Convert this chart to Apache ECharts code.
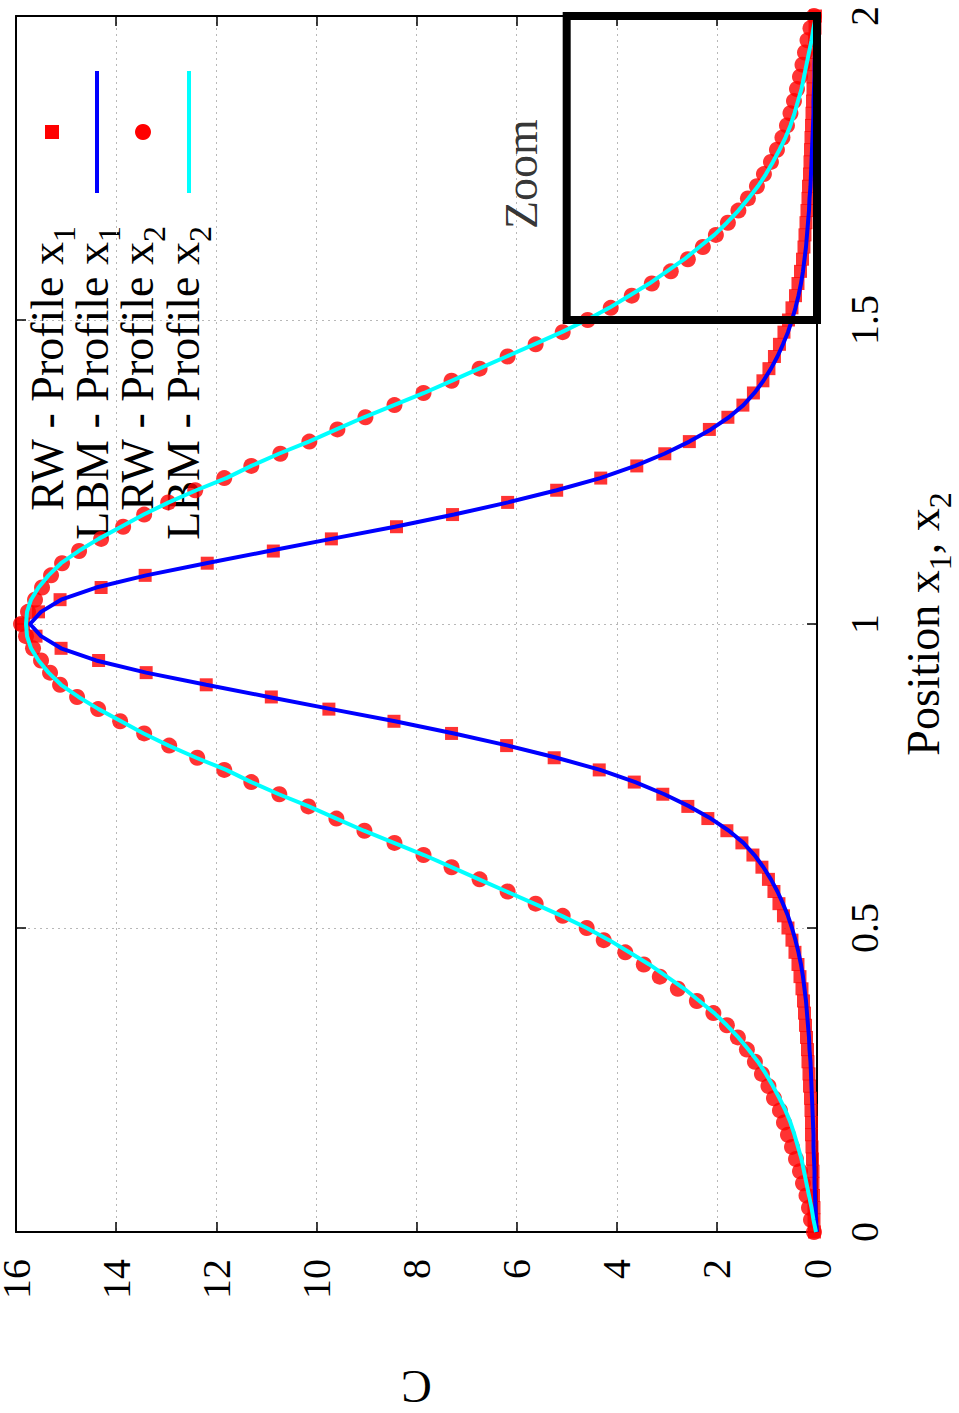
<!DOCTYPE html>
<html>
<head>
<meta charset="utf-8">
<script src="https://cdn.jsdelivr.net/npm/echarts@6/dist/echarts.min.js"></script>
<style>
html, body { margin: 0; padding: 0; background: #fff; }
#chart { width: 959px; height: 1413px; }
</style>
</head>
<body>
<div id="chart"></div>
<script>
// positions x1, x2 (shared by every profile)
var position = [0, 0.02, 0.04, 0.06, 0.08, 0.1, 0.12, 0.14, 0.16, 0.18,
    0.2, 0.22, 0.24, 0.26, 0.28, 0.3, 0.32, 0.34, 0.36, 0.38,
    0.4, 0.42, 0.44, 0.46, 0.48, 0.5, 0.52, 0.54, 0.56, 0.58,
    0.6, 0.62, 0.64, 0.66, 0.68, 0.7, 0.72, 0.74, 0.76, 0.78,
    0.8, 0.82, 0.84, 0.86, 0.88, 0.9, 0.92, 0.94, 0.96, 0.98,
    1,
    1.02, 1.04, 1.06, 1.08, 1.1, 1.12, 1.14, 1.16, 1.18, 1.2,
    1.22, 1.24, 1.26, 1.28, 1.3, 1.32, 1.34, 1.36, 1.38, 1.4,
    1.42, 1.44, 1.46, 1.48, 1.5, 1.52, 1.54, 1.56, 1.58, 1.6,
    1.62, 1.64, 1.66, 1.68, 1.7, 1.72, 1.74, 1.76, 1.78, 1.8,
    1.82, 1.84, 1.86, 1.88, 1.9, 1.92, 1.94, 1.96, 1.98, 2];

// RW - Profile x1 (squares)
var rwX1 = [0.05, 0.06, 0.06, 0.07, 0.08, 0.08, 0.09, 0.1, 0.11, 0.11,
    0.12, 0.13, 0.15, 0.16, 0.18, 0.19, 0.21, 0.23, 0.25, 0.27,
    0.3, 0.34, 0.38, 0.44, 0.5, 0.58, 0.67, 0.76, 0.86, 0.97,
    1.1, 1.28, 1.5, 1.8, 2.18, 2.58, 3.08, 3.65, 4.35, 5.25,
    6.2, 7.3, 8.45, 9.75, 10.9, 12.2, 13.4, 14.35, 15.1, 15.6,
    15.85,
    15.55, 15.12, 14.3, 13.42, 12.18, 10.86, 9.7, 8.4, 7.28, 6.18,
    5.2, 4.32, 3.6, 3.04, 2.55, 2.15, 1.78, 1.48, 1.27, 1.08,
    0.96, 0.85, 0.75, 0.66, 0.57, 0.5, 0.43, 0.38, 0.33, 0.29,
    0.26, 0.24, 0.22, 0.2, 0.18, 0.17, 0.15, 0.14, 0.13, 0.12,
    0.11, 0.1, 0.09, 0.08, 0.08, 0.07, 0.06, 0.05, 0.04, 0.03];

// LBM - Profile x1 (blue line)
var lbmX1 = [0, 0.02, 0.03, 0.04, 0.05, 0.05, 0.06, 0.07, 0.07, 0.08,
    0.09, 0.1, 0.11, 0.12, 0.13, 0.15, 0.16, 0.18, 0.2, 0.22,
    0.25, 0.28, 0.32, 0.37, 0.43, 0.5, 0.58, 0.68, 0.79, 0.92,
    1.07, 1.25, 1.47, 1.76, 2.12, 2.55, 3.05, 3.63, 4.33, 5.2,
    6.17, 7.25, 8.43, 9.7, 10.95, 12.2, 13.4, 14.4, 15.1, 15.5,
    15.72,
    15.5, 15.1, 14.4, 13.4, 12.2, 10.95, 9.7, 8.43, 7.25, 6.17,
    5.2, 4.33, 3.63, 3.05, 2.55, 2.12, 1.76, 1.47, 1.25, 1.07,
    0.92, 0.79, 0.68, 0.58, 0.5, 0.43, 0.37, 0.32, 0.28, 0.25,
    0.22, 0.2, 0.18, 0.16, 0.15, 0.13, 0.12, 0.11, 0.1, 0.09,
    0.08, 0.07, 0.07, 0.06, 0.05, 0.05, 0.04, 0.03, 0.02, 0];

// RW - Profile x2 (circles)
var rwX2 = [0.06, 0.12, 0.16, 0.21, 0.28, 0.34, 0.42, 0.5, 0.58, 0.66,
    0.74, 0.86, 0.97, 1.1, 1.24, 1.4, 1.58, 1.8, 2.07, 2.4,
    2.78, 3.14, 3.46, 3.83, 4.26, 4.6, 5.08, 5.62, 6.18, 6.74,
    7.3, 7.86, 8.44, 9.04, 9.6, 10.16, 10.74, 11.3, 11.84, 12.38,
    12.94, 13.44, 13.92, 14.36, 14.78, 15.12, 15.32, 15.5, 15.66, 15.8,
    15.9,
    15.76, 15.62, 15.48, 15.3, 15.08, 14.74, 14.3, 13.86, 13.44, 12.96,
    12.42, 11.84, 11.3, 10.72, 10.14, 9.58, 9.02, 8.44, 7.86, 7.3,
    6.74, 6.18, 5.62, 5.08, 4.58, 4.12, 3.7, 3.3, 2.92, 2.58,
    2.28, 2.02, 1.78, 1.57, 1.38, 1.2, 1.06, 0.92, 0.8, 0.69,
    0.6, 0.53, 0.46, 0.4, 0.34, 0.29, 0.24, 0.19, 0.13, 0.06];

// LBM - Profile x2 (cyan line)
var lbmX2 = [0.02, 0.07, 0.11, 0.16, 0.21, 0.26, 0.31, 0.38, 0.45, 0.53,
    0.63, 0.75, 0.88, 1.02, 1.18, 1.37, 1.57, 1.8, 2.05, 2.35,
    2.65, 3.0, 3.35, 3.75, 4.15, 4.6, 5.1, 5.65, 6.2, 6.75,
    7.3, 7.85, 8.45, 9.05, 9.6, 10.15, 10.75, 11.3, 11.8, 12.4,
    12.95, 13.45, 13.9, 14.35, 14.75, 15.1, 15.35, 15.55, 15.7, 15.78,
    15.8,
    15.78, 15.7, 15.55, 15.35, 15.1, 14.75, 14.35, 13.9, 13.45, 12.95,
    12.4, 11.8, 11.3, 10.75, 10.15, 9.6, 9.05, 8.45, 7.85, 7.3,
    6.75, 6.2, 5.65, 5.1, 4.6, 4.15, 3.75, 3.35, 3.0, 2.65,
    2.35, 2.05, 1.8, 1.57, 1.37, 1.18, 1.02, 0.88, 0.75, 0.63,
    0.53, 0.45, 0.38, 0.31, 0.26, 0.21, 0.16, 0.11, 0.07, 0.02];

// zoom window corners (C, position) and its label
var zoomBoxC = [5, 5, 0, 0, 5];
var zoomBoxPos = [1.5, 2, 2, 1.5, 1.5];
var zoomLabelC = [5.9];
var zoomLabelPos = [1.74];

var legendNames = ['RW - Profile x', 'LBM - Profile x', 'RW - Profile x', 'LBM - Profile x'];
var legendSubs = ['1', '1', '2', '2'];

var FONT = 'Liberation Serif';

function pairs(cs, ps) {
    var out = [];
    for (var i = 0; i < ps.length; i++) {
        out.push([cs[i], ps[i]]);
    }
    return out;
}

// main text + subscript
var richText = {
    n: { fontFamily: FONT, fontSize: 46, lineHeight: 50, color: '#000' },
    s: { fontFamily: FONT, fontSize: 32, height: 16, lineHeight: 16, color: '#000', verticalAlign: 'bottom' }
};

var frameLine = { show: true, onZero: false, lineStyle: { color: '#000', width: 2 } };
var innerTick = { show: true, inside: true, length: 10, lineStyle: { color: '#000', width: 1.5 } };
var gridLine = { show: true, lineStyle: { color: '#b8b8b8', width: 1, type: [2, 4] } };

function legendGraphic() {
    var g = [];
    var cols = [47, 92, 137, 183];
    for (var i = 0; i < 4; i++) {
        g.push({
            type: 'text',
            x: cols[i],
            y: 226,
            rotation: Math.PI / 2,
            style: {
                text: '{n|' + legendNames[i] + '}{s|' + legendSubs[i] + '}',
                rich: richText,
                align: 'right',
                verticalAlign: 'middle'
            }
        });
    }
    g.push({ type: 'rect', shape: { x: 45, y: 125, width: 14, height: 14 }, style: { fill: '#ff0000' } });
    g.push({ type: 'line', shape: { x1: 97, y1: 71, x2: 97, y2: 193 }, style: { stroke: '#0000ff', lineWidth: 4 } });
    g.push({ type: 'circle', shape: { cx: 143, cy: 132, r: 8 }, style: { fill: '#ff0000' } });
    g.push({ type: 'line', shape: { x1: 189, y1: 71, x2: 189, y2: 193 }, style: { stroke: '#00ffff', lineWidth: 4 } });
    return g;
}

var chart = echarts.init(document.getElementById('chart'), null, { renderer: 'svg' });

var option = {
    animation: false,
    backgroundColor: '#fff',
    grid: { left: 16, right: 142, top: 16, bottom: 181, containLabel: false, outerBoundsMode: 'none' },
    xAxis: [{
        type: 'value',
        min: 0,
        max: 16,
        interval: 2,
        inverse: true,
        position: 'bottom',
        axisLine: frameLine,
        axisTick: innerTick,
        axisLabel: { rotate: 90, margin: 27, lineHeight: 30, fontFamily: FONT, fontSize: 40, color: '#000' },
        splitLine: gridLine,
        name: 'C',
        nameLocation: 'middle',
        nameRotate: 180,
        nameGap: 137,
        nameTextStyle: { fontFamily: FONT, fontSize: 46, lineHeight: 34, color: '#000' }
    }, {
        type: 'value',
        min: 0,
        max: 16,
        interval: 2,
        inverse: true,
        position: 'top',
        axisLine: frameLine,
        axisTick: innerTick,
        axisLabel: { show: false },
        splitLine: { show: false }
    }],
    yAxis: [{
        type: 'value',
        min: 0,
        max: 2,
        interval: 0.5,
        position: 'right',
        axisLine: frameLine,
        axisTick: innerTick,
        axisLabel: { rotate: 90, margin: 32, lineHeight: 30, fontFamily: FONT, fontSize: 40, color: '#000' },
        splitLine: gridLine,
        name: '{n|Position x}{s|1}{n|, x}{s|2}',
        nameLocation: 'middle',
        nameRotate: 90,
        nameGap: 81,
        nameTextStyle: { rich: richText }
    }, {
        type: 'value',
        min: 0,
        max: 2,
        interval: 0.5,
        position: 'left',
        axisLine: frameLine,
        axisTick: innerTick,
        axisLabel: { show: false },
        splitLine: { show: false }
    }],
    graphic: legendGraphic(),
    series: [{
            name: 'RW - Profile x1',
            type: 'scatter',
            symbol: 'rect',
            symbolSize: 13,
            itemStyle: { color: '#ff0000' },
            data: pairs(rwX1, position)
        },
        {
            name: 'LBM - Profile x1',
            type: 'line',
            showSymbol: false,
            lineStyle: { color: '#0000ff', width: 4 },
            data: pairs(lbmX1, position)
        },
        {
            name: 'RW - Profile x2',
            type: 'scatter',
            symbol: 'circle',
            symbolSize: 16,
            itemStyle: { color: '#ff0000' },
            data: pairs(rwX2, position)
        },
        {
            name: 'LBM - Profile x2',
            type: 'line',
            showSymbol: false,
            lineStyle: { color: '#00ffff', width: 4 },
            data: pairs(lbmX2, position)
        },
        {
            name: 'zoom box',
            type: 'line',
            showSymbol: false,
            clip: false,
            silent: true,
            lineStyle: { color: '#000', width: 8, cap: 'square', join: 'miter' },
            data: pairs(zoomBoxC, zoomBoxPos)
        },
        {
            name: 'zoom label',
            type: 'scatter',
            symbolSize: 1,
            silent: true,
            itemStyle: { color: 'rgba(0,0,0,0)' },
            label: {
                show: true,
                position: 'inside',
                rotate: 90,
                formatter: 'Zoom',
                fontFamily: FONT,
                fontSize: 46,
                color: '#000'
            },
            data: pairs(zoomLabelC, zoomLabelPos)
        }
    ]
};
chart.setOption(option);
</script>
</body>
</html>
